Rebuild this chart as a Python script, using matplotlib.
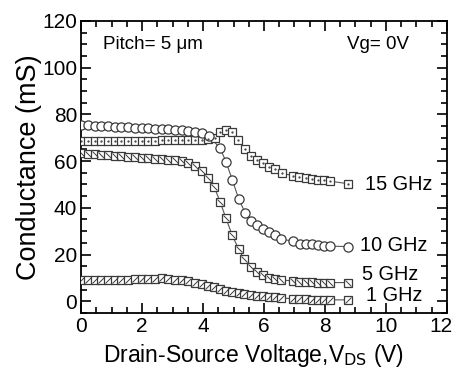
import matplotlib
matplotlib.use("Agg")
import matplotlib.pyplot as plt
from matplotlib.path import Path
from matplotlib.ticker import MultipleLocator
from matplotlib.transforms import ScaledTranslation

plt.rcParams['font.family'] = ['Liberation Sans', 'DejaVu Sans']

# ---- data ----
v15 = [0.0, 0.22, 0.44, 0.66, 0.88, 1.10, 1.32, 1.54, 1.76, 1.98, 2.20, 2.42, 2.64, 2.86,
       3.08, 3.30, 3.52, 3.74, 3.96, 4.17, 4.39, 4.54, 4.75, 4.96, 5.16, 5.38, 5.56, 5.77,
       5.96, 6.16, 6.37, 6.58, 6.96, 7.16, 7.37, 7.57, 7.78, 7.97, 8.17, 8.76]
g15 = [68.5, 68.5, 68.5, 68.5, 68.6, 68.6, 68.6, 68.7, 68.7, 68.7, 68.8, 68.8, 68.9, 68.9,
       69.0, 69.0, 69.1, 69.2, 69.2, 69.5, 70.0, 72.3, 73.5, 72.3, 68.9, 65.2, 62.1, 60.4,
       59.0, 57.5, 56.7, 54.7, 53.8, 53.3, 52.9, 52.4, 52.1, 51.7, 51.4, 50.3]

v10 = [0.0, 0.22, 0.44, 0.66, 0.88, 1.10, 1.32, 1.54, 1.76, 1.98, 2.20, 2.42, 2.64, 2.86,
       3.08, 3.30, 3.52, 3.74, 3.96, 4.20, 4.56, 4.75, 4.96, 5.17, 5.38, 5.57, 5.76, 5.96,
       6.16, 6.37, 6.56, 6.96, 7.18, 7.38, 7.57, 7.78, 7.97, 8.17, 8.76]
g10 = [75.6, 75.4, 75.2, 75.0, 74.8, 74.6, 74.5, 74.4, 74.2, 74.1, 74.0, 73.9, 73.7, 73.6,
       73.4, 73.2, 73.0, 72.6, 72.0, 70.6, 65.5, 59.8, 51.9, 43.8, 37.9, 34.3, 32.5, 31.1,
       29.6, 28.2, 26.5, 25.8, 24.4, 24.4, 24.4, 23.9, 23.6, 23.6, 23.4]

v5 = [0.0, 0.22, 0.44, 0.66, 0.88, 1.10, 1.32, 1.54, 1.76, 1.98, 2.20, 2.42, 2.64, 2.86,
      3.08, 3.30, 3.52, 3.74, 3.96, 4.17, 4.37, 4.56, 4.75, 4.96, 5.17, 5.35, 5.57, 5.77,
      5.98, 6.17, 6.37, 6.56, 6.96, 7.16, 7.37, 7.57, 7.78, 7.97, 8.17, 8.76]
g5 = [63.5, 63.2, 62.9, 62.7, 62.4, 62.2, 62.0, 61.8, 61.6, 61.4, 61.3, 61.1, 60.9, 60.6,
      60.3, 59.9, 59.2, 57.8, 55.7, 52.9, 48.7, 42.6, 35.5, 28.2, 22.2, 17.9, 14.7, 12.5,
      11.1, 10.1, 9.4, 9.1, 8.7, 8.4, 8.3, 8.3, 8.0, 8.0, 8.0, 8.0]

v1 = [0.0, 0.22, 0.44, 0.66, 0.88, 1.10, 1.32, 1.54, 1.76, 1.98, 2.20, 2.42, 2.64, 2.86,
      3.08, 3.30, 3.52, 3.74, 3.96, 4.17, 4.37, 4.56, 4.75, 4.96, 5.17, 5.35, 5.57, 5.77,
      5.98, 6.17, 6.37, 6.56, 6.96, 7.16, 7.37, 7.57, 7.78, 7.97, 8.17, 8.76]
g1 = [9.2, 9.2, 9.1, 9.1, 9.1, 9.2, 9.3, 9.3, 9.4, 9.5, 9.6, 9.7, 9.8, 9.6,
      9.3, 9.0, 8.6, 8.0, 7.2, 6.6, 6.0, 5.1, 4.4, 4.0, 3.5, 3.0, 2.6, 2.3,
      2.1, 1.9, 1.7, 1.5, 1.0, 0.9, 0.8, 0.7, 0.7, 0.6, 0.6, 0.6]

labels = ["15 GHz", "10 GHz", "5 GHz", "1 GHz"]
label_pos = [(9.3, 50.0), (9.15, 24.0), (9.2, 11.5), (9.35, 2.5)]
xticks = [0, 2, 4, 6, 8, 10, 12]

fig = plt.figure(figsize=(4.56, 3.73), dpi=100)
ax = fig.add_axes([0.178, 0.161, 0.802, 0.783])

edge = '#3a3a3a'
lw = 0.8
ms = 6.0

back = Path([(-1, 1), (1, -1)], [Path.MOVETO, Path.LINETO])
fwd = Path([(-1, -1), (1, 1)], [Path.MOVETO, Path.LINETO])

# 15 GHz : square with centre dot
ax.plot(v15, g15, '-', color='#555555', lw=lw, zorder=2)
ax.plot(v15, g15, 's', ms=ms, mfc='white', mec=edge, mew=0.9, ls='none', zorder=3)
ax.plot(v15, g15, '.', ms=1.3, color='#444444', ls='none', zorder=4)

# 10 GHz : open circle
ax.plot(v10, g10, '-', color='#555555', lw=lw, zorder=2)
ax.plot(v10, g10, 'o', ms=ms + 0.6, mfc='white', mec=edge, mew=0.9, ls='none', zorder=3)

# 5 GHz : square with backslash
ax.plot(v5, g5, '-', color='#555555', lw=lw, zorder=2)
ax.plot(v5, g5, 's', ms=ms, mfc='white', mec=edge, mew=0.9, ls='none', zorder=3)
ax.plot(v5, g5, marker=back, ms=ms * 0.72, mfc='none', mec=edge, mew=0.7, ls='none', zorder=4)

# 1 GHz : square with slash
ax.plot(v1, g1, '-', color='#555555', lw=lw, zorder=2)
ax.plot(v1, g1, 's', ms=ms, mfc='white', mec=edge, mew=0.9, ls='none', zorder=3)
ax.plot(v1, g1, marker=fwd, ms=ms * 0.72, mfc='none', mec=edge, mew=0.7, ls='none', zorder=4)

for lab, (x, y) in zip(labels, label_pos):
    ax.text(x, y, lab, fontsize=14.3, va='center', ha='left')

ax.text(0.72, 110, "Pitch= 5 \u03bcm", fontsize=13.5, va='center', ha='left')
ax.text(10.75, 110, "Vg= 0V", fontsize=13.5, va='center', ha='right')

ax.set_xlim(0, 12)
ax.set_ylim(-5, 120)
ax.set_xticks(xticks)
ax.xaxis.set_minor_locator(MultipleLocator(0.5))
ax.yaxis.set_major_locator(MultipleLocator(20))
ax.yaxis.set_minor_locator(MultipleLocator(5))
ax.tick_params(which='both', direction='in', top=True, right=True, width=1.2)
ax.tick_params(which='major', length=7, labelsize=15, pad=3)
ax.tick_params(which='minor', length=4)
for s in ax.spines.values():
    s.set_linewidth(1.3)

# nudge the last x tick label so it stays inside the figure
last = ax.get_xticklabels()[-1]
last.set_transform(last.get_transform() + ScaledTranslation(-4 / 72, 0, fig.dpi_scale_trans))

ax.set_xlabel("Drain-Source Voltage,V$_{\\mathrm{DS}}$ (V)", fontsize=16.5, labelpad=1)
ax.xaxis.set_label_coords(0.47, -0.10, transform=ax.transAxes)
ax.xaxis.label.set_va('top')
ax.set_ylabel("Conductance (mS)", fontsize=19.5, labelpad=0)

fig.savefig("out.png", dpi=100)
